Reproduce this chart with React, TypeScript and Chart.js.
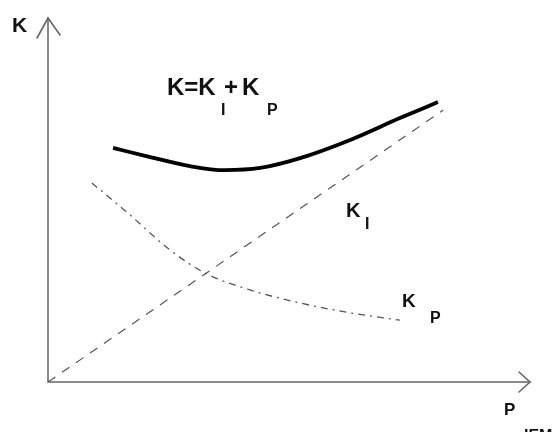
import React, { useEffect, useRef } from "react";
import { Chart, registerables } from "chart.js";

Chart.register(...registerables);

// K_I (dashed straight line)
const kiX = [0, 8.2];
const kiY = [0, 7.47];
// K_P (dash-dot decreasing curve)
const kpX = [0.91, 1.7, 2.53, 3.26, 4.19, 5.23, 6.27, 7.3];
const kpY = [5.47, 4.59, 3.63, 2.99, 2.53, 2.17, 1.9, 1.7];
// K = K_I + K_P (thick curve)
const kX = [1.35, 2.12, 2.95, 3.67, 4.4, 5.23, 6.27, 7.3, 8.09];
const kY = [6.43, 6.18, 5.93, 5.82, 5.88, 6.15, 6.65, 7.25, 7.69];

const toPts = (xs: number[], ys: number[]) => xs.map((x, i) => ({ x, y: ys[i] }));

const FONT = '"Liberation Sans", Arial, sans-serif';

const decorPlugin = {
  id: "decor",
  beforeDatasetsDraw(chart: any) {
    const ctx = chart.ctx;
    const xs = chart.scales.x;
    const ys = chart.scales.y;
    const x0 = xs.getPixelForValue(0);
    const y0 = ys.getPixelForValue(0);
    const yTop = ys.getPixelForValue(10);
    const xEnd = xs.getPixelForValue(10);
    ctx.save();
    ctx.strokeStyle = "#8a8a8a";
    ctx.lineWidth = 2;
    ctx.lineCap = "round";
    ctx.beginPath();
    ctx.moveTo(x0, y0);
    ctx.lineTo(x0, yTop);
    ctx.moveTo(x0, y0);
    ctx.lineTo(xEnd, y0);
    ctx.stroke();
    // arrowheads
    ctx.strokeStyle = "#666";
    ctx.lineWidth = 1.6;
    ctx.beginPath();
    ctx.moveTo(x0 - 11, yTop + 20);
    ctx.lineTo(x0, yTop);
    ctx.lineTo(x0 + 12, yTop + 17);
    ctx.moveTo(xEnd - 11, y0 - 10);
    ctx.lineTo(xEnd, y0);
    ctx.lineTo(xEnd - 11, y0 + 10);
    ctx.stroke();
    ctx.restore();
  },
  afterDraw(chart: any) {
    const ctx = chart.ctx;
    ctx.save();
    ctx.fillStyle = "#111";
    ctx.textBaseline = "alphabetic";
    ctx.textAlign = "left";
    const t = (s: string, x: number, y: number, size: number) => {
      ctx.font = `bold ${size}px ${FONT}`;
      ctx.fillText(s, x, y);
    };
    t("K", 12, 32, 21);
    t("K=K", 167, 95, 24);
    t("I", 221, 115, 16);
    t("+", 224, 95, 24);
    t("K", 242, 95, 24);
    t("P", 267, 115, 16);
    t("K", 346, 217, 20);
    t("I", 365, 229, 16);
    t("K", 402, 307, 19);
    t("P", 430, 323, 16);
    t("P", 504, 415, 17);
    t("IEM", 524, 441, 16);
    ctx.restore();
  },
};

export default function App() {
  const ref = useRef<HTMLCanvasElement | null>(null);
  useEffect(() => {
    if (!ref.current) return;
    const chart = new Chart(ref.current, {
      type: "line",
      data: {
        datasets: [
          {
            label: "K_I",
            data: toPts(kiX, kiY),
            borderColor: "#555",
            borderWidth: 1.2,
            borderDash: [9, 8],
            pointRadius: 0,
            tension: 0,
          },
          {
            label: "K_P",
            data: toPts(kpX, kpY),
            borderColor: "#555",
            borderWidth: 1.3,
            borderDash: [7, 5, 2, 5],
            pointRadius: 0,
            cubicInterpolationMode: "monotone",
          },
          {
            label: "K",
            data: toPts(kX, kY),
            borderColor: "#000",
            borderWidth: 3.8,
            pointRadius: 0,
            cubicInterpolationMode: "monotone",
          },
        ],
      },
      options: {
        responsive: false,
        animation: false,
        parsing: true,
        layout: { padding: { left: 48, right: 29, top: 18, bottom: 50 } },
        plugins: { legend: { display: false }, tooltip: { enabled: false } },
        scales: {
          x: { type: "linear", min: 0, max: 10, display: false },
          y: { type: "linear", min: 0, max: 10, display: false },
        },
      },
      plugins: [decorPlugin],
    } as any);
    return () => chart.destroy();
  }, []);
  return (
    <div style={{ position: "fixed", left: 0, top: 0, width: 559, height: 432, background: "#fff" }}>
      <canvas ref={ref} width={559} height={432} />
    </div>
  );
}
